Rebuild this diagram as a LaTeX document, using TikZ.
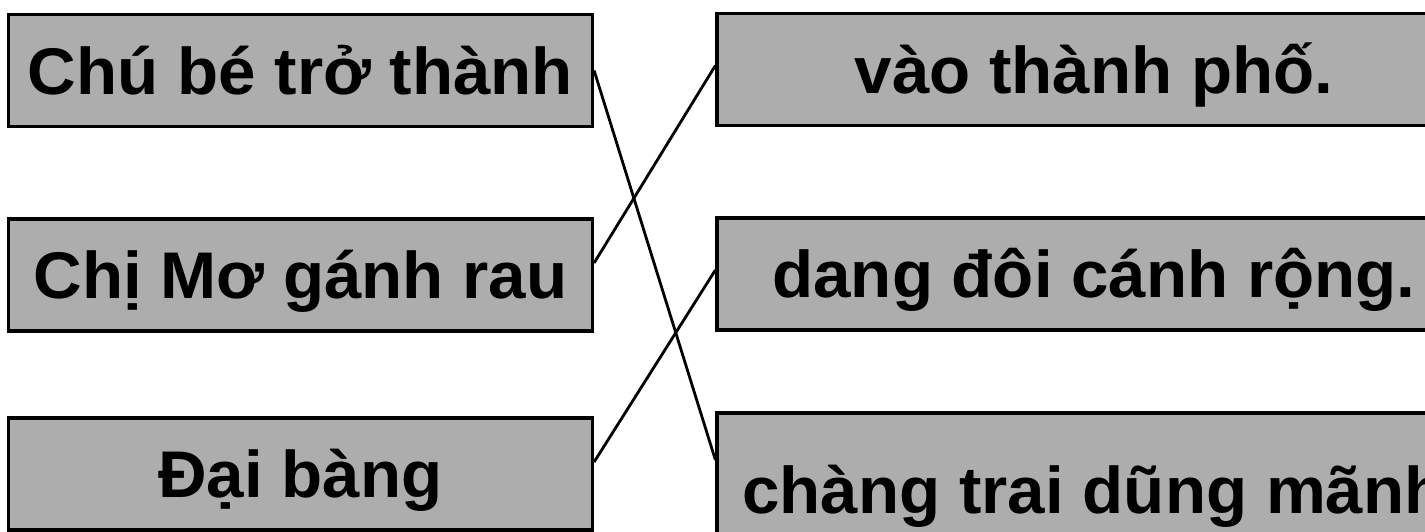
\documentclass[tikz,border=0pt]{standalone}
\usepackage{fontspec}
\newfontfamily\boxfont{Liberation Sans}[FakeStretch=1.02]

\begin{document}
\begin{tikzpicture}[x=0.5pt, y=-0.5pt,
    box/.style={draw, line width=1.6pt, fill=black!32, inner sep=0pt,
      minimum height=56pt, text height=23.5pt, text depth=0pt,
      font=\boxfont\bfseries\fontsize{33pt}{33pt}\selectfont},
    link/.style={line width=1.4pt}]
            \clip (0,0) rectangle (1425,531);
            \foreach \y/\n/\t in {70.5/1/Chú bé trở thành, 275/2/Chị Mơ gánh rau, 474/3/Đại bàng}
                \node[box, minimum width=292pt] (l\n) at (300.5,\y) {\t};
            \node[box, minimum width=377pt] (r1) at (1094,69.5) {vào thành phố.};
            \node[box, minimum width=377pt] (r2) at (1094,274) {dang đôi cánh rộng.};
            \node[box, minimum width=377pt, minimum height=77pt] (r3) at (1094,490) {chàng trai dũng mãnh};
            \draw[link] (l1.east) -- ([yshift=15pt]r3.west);
            \draw[link] ([yshift=6pt]l2.east) -- ([yshift=2pt]r1.west);
            \draw[link] ([yshift=6pt]l3.east) -- ([yshift=2pt]r2.west);
        \end{tikzpicture}
\end{document}
